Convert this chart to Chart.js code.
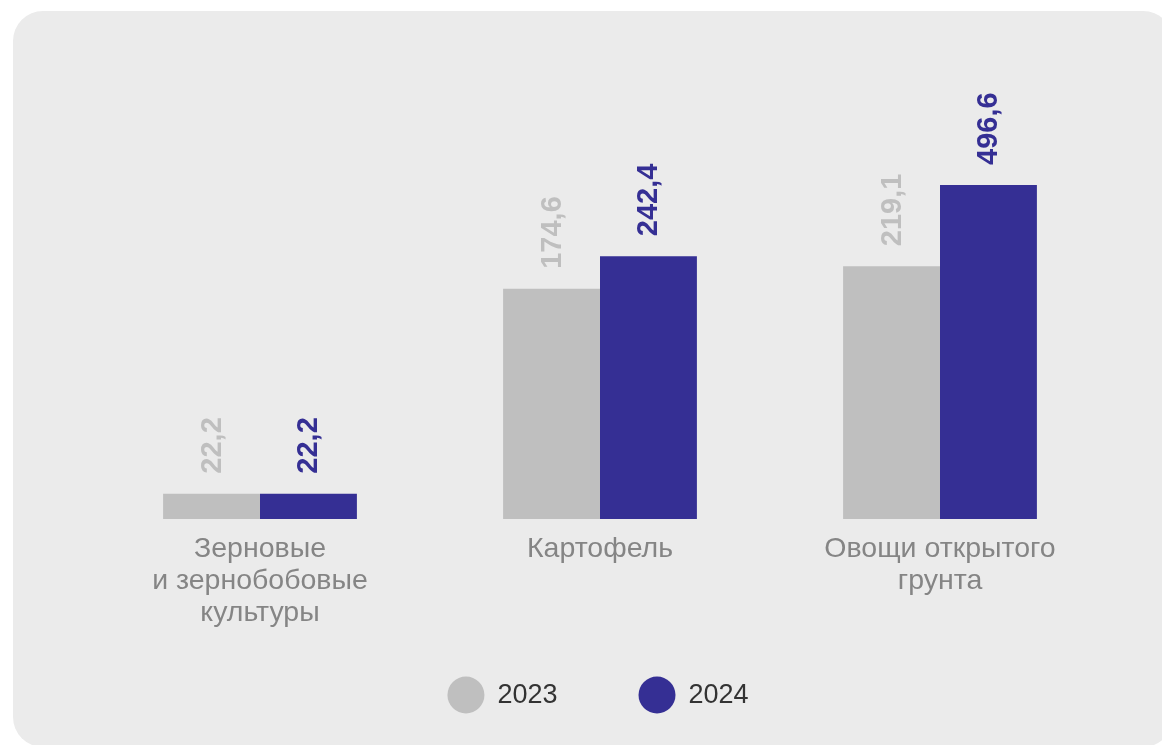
<!DOCTYPE html>
<html lang="ru">
<head>
    <meta charset="UTF-8">
    <title>Зерновые, картофель, овощи 2023–2024</title>
    <script src="https://cdn.jsdelivr.net/npm/chart.js"></script>
    <style>
        html, body { margin: 0; padding: 0; background: #ffffff; }
        canvas { display: block; }
    </style>
</head>
<body>
    <canvas id="myChart" width="1162" height="745"></canvas>

    <script>
        const categories = [
            ['Зерновые', 'и зернобобовые', 'культуры'],
            'Картофель',
            ['Овощи открытого', 'грунта']
        ];
        const years = ['2023', '2024'];
        const values2023 = [22.2, 174.6, 219.1];
        const values2024 = [22.2, 242.4, 496.6];

        const greyColor = '#bfbfbf';
        const navyColor = '#352f94';
        const fontFamily = '"Liberation Sans", Arial, sans-serif';

        // rounded grey panel behind everything
        const panelBackground = {
            id: 'panelBackground',
            beforeDraw(chart) {
                const ctx = chart.ctx;
                ctx.save();
                ctx.fillStyle = '#ebebeb';
                ctx.beginPath();
                ctx.roundRect(13, 11, 1160, 736, 30);
                ctx.fill();
                ctx.restore();
            }
        };

        // vertical value labels above bars
        const valueLabels = {
            id: 'valueLabels',
            afterDatasetsDraw(chart) {
                const ctx = chart.ctx;
                chart.data.datasets.forEach((ds, i) => {
                    const meta = chart.getDatasetMeta(i);
                    meta.data.forEach((bar, j) => {
                        const text = ds.data[j].toFixed(1).replace('.', ',');
                        ctx.save();
                        ctx.translate(bar.x + 1, bar.y - 20);
                        ctx.rotate(-Math.PI / 2);
                        ctx.font = 'bold 29px ' + fontFamily;
                        ctx.fillStyle = ds.backgroundColor;
                        ctx.textAlign = 'left';
                        ctx.textBaseline = 'middle';
                        ctx.fillText(text, 0, 0);
                        ctx.restore();
                    });
                });
            }
        };

        // legend with round markers, centred under the plot
        const circleLegend = {
            id: 'circleLegend',
            afterDraw(chart) {
                const ctx = chart.ctx;
                const r = 18.5, gapText = 13, gapItem = 81, y = 695;
                ctx.save();
                ctx.font = '27px ' + fontFamily;
                const items = chart.data.datasets.map(ds => ({
                    text: ds.label,
                    color: ds.backgroundColor,
                    w: 2 * r + gapText + ctx.measureText(ds.label).width
                }));
                const total = items.reduce((s, it) => s + it.w, 0) + gapItem * (items.length - 1);
                let x = (chart.chartArea.left + chart.chartArea.right) / 2 - total / 2 - 2;
                items.forEach(it => {
                    ctx.fillStyle = it.color;
                    ctx.beginPath();
                    ctx.arc(x + r, y, r, 0, Math.PI * 2);
                    ctx.fill();
                    ctx.fillStyle = '#333333';
                    ctx.textAlign = 'left';
                    ctx.textBaseline = 'middle';
                    ctx.fillText(it.text, x + 2 * r + gapText, y + 1);
                    x += it.w + gapItem;
                });
                ctx.restore();
            }
        };

        const ctx = document.getElementById('myChart').getContext('2d');

        const chart = new Chart(ctx, {
            type: 'bar',
            data: {
                labels: categories,
                datasets: [
                    {
                        label: years[0],
                        data: values2023,
                        backgroundColor: greyColor,
                        categoryPercentage: 0.57,
                        barPercentage: 1
                    },
                    {
                        label: years[1],
                        data: values2024,
                        backgroundColor: navyColor,
                        categoryPercentage: 0.57,
                        barPercentage: 1
                    }
                ]
            },
            options: {
                responsive: false,
                animation: false,
                layout: {
                    padding: { left: 90, right: 52, top: 100, bottom: 114 }
                },
                plugins: {
                    tooltip: { enabled: false },
                    legend: { display: false }
                },
                scales: {
                    x: {
                        grid: { display: false, drawTicks: false },
                        border: { display: false },
                        ticks: {
                            padding: 14,
                            color: '#858585',
                            font: { family: fontFamily, size: 28.5, lineHeight: 1.123 }
                        },
                        afterFit(scale) {
                            scale.height = 112;
                        }
                    },
                    y: {
                        type: 'logarithmic',
                        display: false,
                        bounds: 'data',
                        min: 17.2,
                        max: 1168
                    }
                }
            },
            plugins: [panelBackground, valueLabels, circleLegend]
        });
    </script>
</body>
</html>
